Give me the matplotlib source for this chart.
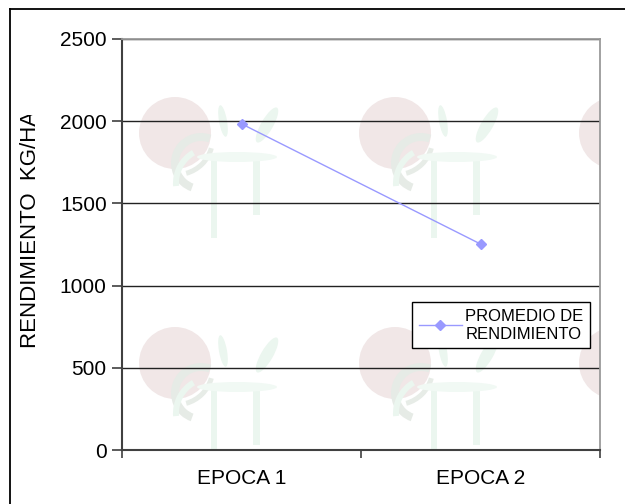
import matplotlib
matplotlib.use('Agg')
import matplotlib.pyplot as plt
from matplotlib.patches import Circle, Ellipse, Rectangle, Wedge
from matplotlib.lines import Line2D
from matplotlib.transforms import Bbox, TransformedBbox

plt.rcParams['font.family'] = ['Liberation Sans', 'DejaVu Sans']

epocas = ['EPOCA 1', 'EPOCA 2']
rendimiento = [1984, 1253]
serie = 'PROMEDIO DE\nRENDIMIENTO'
y_ticks = [0, 500, 1000, 1500, 2000, 2500]

W, H = 625, 504
fig = plt.figure(figsize=(W / 100, H / 100), dpi=100)
fig.patch.set_facecolor('white')

# plot area in pixels
left, right, top, bottom = 122, 600, 39, 450
pos = [left / W, 1 - bottom / H, (right - left) / W, (bottom - top) / H]

# faded logo tiles behind the chart (pixel units)
bg = fig.add_axes(pos, zorder=0)
bg.set_xlim(0, right - left)
bg.set_ylim(bottom - top, 0)
bg.axis('off')
verde = '#ebf6ef'
for i in range(3):
    for j in range(2):
        cx, cy = 53 + 220 * i, 94 + 230 * j
        bg.add_patch(Circle((cx, cy), 36, color='#f1e7e7', lw=0))
        bg.add_patch(Wedge((cx + 26, cy + 30), 30, 110, 290, width=8,
                           color='#e6ebe6', lw=0))
        bg.add_patch(Wedge((cx + 2, cy + 6), 38, 15, 75, width=5,
                           color='#e7ece7', lw=0))
        bg.add_patch(Rectangle((cx + 36, cy + 25), 6, 80, color=verde, lw=0))
        bg.add_patch(Rectangle((cx + 78, cy + 20), 7, 62, color=verde, lw=0))
        bg.add_patch(Ellipse((cx + 62, cy + 24), 80, 10, color='#f1f9f4', lw=0))
        bg.add_patch(Ellipse((cx + 48, cy - 12), 8, 32, angle=-10,
                             color=verde, lw=0))
        bg.add_patch(Ellipse((cx + 92, cy - 8), 12, 40, angle=30,
                             color=verde, lw=0))
        bg.add_patch(Wedge((cx + 36, cy + 50), 38, 175, 240, width=6,
                           color=verde, lw=0))

ax = fig.add_axes(pos, zorder=1)
ax.patch.set_alpha(0)

x = [i + 0.5 for i in range(len(epocas))]
ax.plot(x, rendimiento, color='#9999ff', lw=1, marker='D', markersize=5.5,
        label=serie, zorder=3)

ax.set_xlim(0, len(epocas))
ax.set_ylim(0, 2500)
ax.set_yticks(y_ticks)
ax.set_xticks(range(len(epocas) + 1))
ax.set_xticklabels([])
ax.set_xticks(x, minor=True)
ax.set_xticklabels(epocas, minor=True)
ax.tick_params(axis='x', which='minor', length=0, pad=14, labelsize=15)
ax.tick_params(axis='x', which='major', length=6, width=1.2, color='#404040')
ax.tick_params(axis='y', length=7, width=1.2, color='#404040', labelsize=15, pad=4)
ax.yaxis.grid(True, color='#222222', lw=1)
ax.set_axisbelow(True)

for s in ['left', 'bottom']:
    ax.spines[s].set_color('#404040')
    ax.spines[s].set_linewidth(1.5)
for s in ['top', 'right']:
    ax.spines[s].set_color('#9a9a9a')
    ax.spines[s].set_linewidth(1.3)

leg = ax.legend(loc='upper left', bbox_to_anchor=(0.607, 0.359), frameon=True,
                fancybox=False, fontsize=12, handlelength=2.6,
                borderpad=0.4, handletextpad=0.2, labelspacing=0.3,
                borderaxespad=0)
leg.get_frame().set_edgecolor('black')
leg.get_frame().set_linewidth(1)
leg.get_frame().set_alpha(1)

# y axis title, cut off at the top
lab = fig.text(31 / W, 1 - 348 / H, 'RENDIMIENTO  KG/HA', rotation=90,
               ha='center', va='bottom', fontsize=16)
lab.set_clip_box(TransformedBbox(Bbox([[0, 0], [1, 1 - 115 / H]]), fig.transFigure))
lab.set_clip_on(True)

# outer chart frame
fig.add_artist(Line2D([10 / W, 10 / W], [0, 1 - 9 / H], color='black', lw=1.3,
                      transform=fig.transFigure))
fig.add_artist(Line2D([10 / W, 1], [1 - 9 / H, 1 - 9 / H], color='black', lw=1.3,
                      transform=fig.transFigure))

fig.savefig('out.png', dpi=100)
